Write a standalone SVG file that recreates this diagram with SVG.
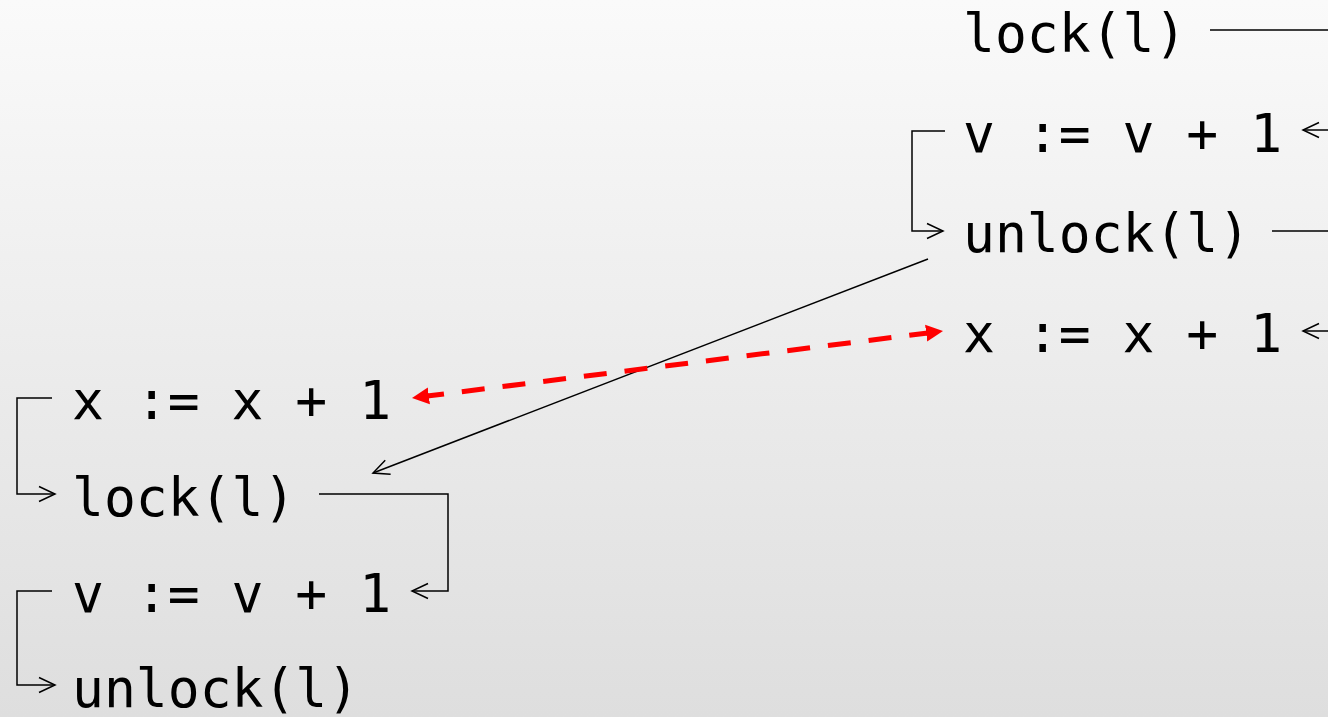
<svg xmlns="http://www.w3.org/2000/svg" width="1328" height="717" viewBox="0 0 1328 717">
  <defs>
    <linearGradient id="bg" x1="0" y1="0" x2="0" y2="1">
      <stop offset="0" stop-color="#fafafa"/>
      <stop offset="1" stop-color="#dedede"/>
    </linearGradient>
    <marker id="open" markerUnits="userSpaceOnUse" viewBox="-18 -10 20 20" markerWidth="20" markerHeight="20" refX="0" refY="0" orient="auto">
      <path d="M-16,-7.5 L0,0 L-16,7.5" fill="none" stroke="#000" stroke-width="1.5"/>
    </marker>
    <marker id="red" markerUnits="userSpaceOnUse" viewBox="0 -10 20 20" markerWidth="20" markerHeight="20" refX="6" refY="0" orient="auto-start-reverse">
      <path d="M0,-8.5 L17,0 L0,8.5 z" fill="#ff0000"/>
    </marker>
    <style>
      .t { font-family: "DejaVu Sans Mono", "Liberation Mono", monospace; font-size: 53px; fill: #000; }
      .c { fill: none; stroke: #000; stroke-width: 1.5; }
      .r { fill: none; stroke: #ff0000; stroke-width: 5; stroke-dasharray: 23 18; }
    </style>
  </defs>
  <rect width="1328" height="717" fill="url(#bg)"/>

  <g id="connectors">
    <path class="c" d="M1210,30 H1345 V130 H1303" marker-end="url(#open)"/>
    <path class="c" d="M945,131 H912 V231 H943" marker-end="url(#open)"/>
    <path class="c" d="M1272,231 H1345 V331 H1303" marker-end="url(#open)"/>
    <path class="c" d="M52,398 H17 V494 H55" marker-end="url(#open)"/>
    <path class="c" d="M319,494 H448 V591 H412" marker-end="url(#open)"/>
    <path class="c" d="M52,591 H17 V685 H55" marker-end="url(#open)"/>
    <path class="c" d="M928,259 L373,473" marker-end="url(#open)"/>
    <path class="r" d="M932.1,332.4 L422.9,396.6" marker-start="url(#red)" marker-end="url(#red)"/>
  </g>

  <g id="r-lock"><text class="t" x="963" y="52">lock(l)</text></g>
  <g id="r-vinc"><text class="t" x="963" y="152">v := v + 1</text></g>
  <g id="r-unlock"><text class="t" x="963" y="252">unlock(l)</text></g>
  <g id="r-xinc"><text class="t" x="963" y="352">x := x + 1</text></g>

  <g id="l-xinc"><text class="t" x="72" y="419">x := x + 1</text></g>
  <g id="l-lock"><text class="t" x="72" y="516">lock(l)</text></g>
  <g id="l-vinc"><text class="t" x="72" y="612">v := v + 1</text></g>
  <g id="l-unlock"><text class="t" x="72" y="707">unlock(l)</text></g>
</svg>
